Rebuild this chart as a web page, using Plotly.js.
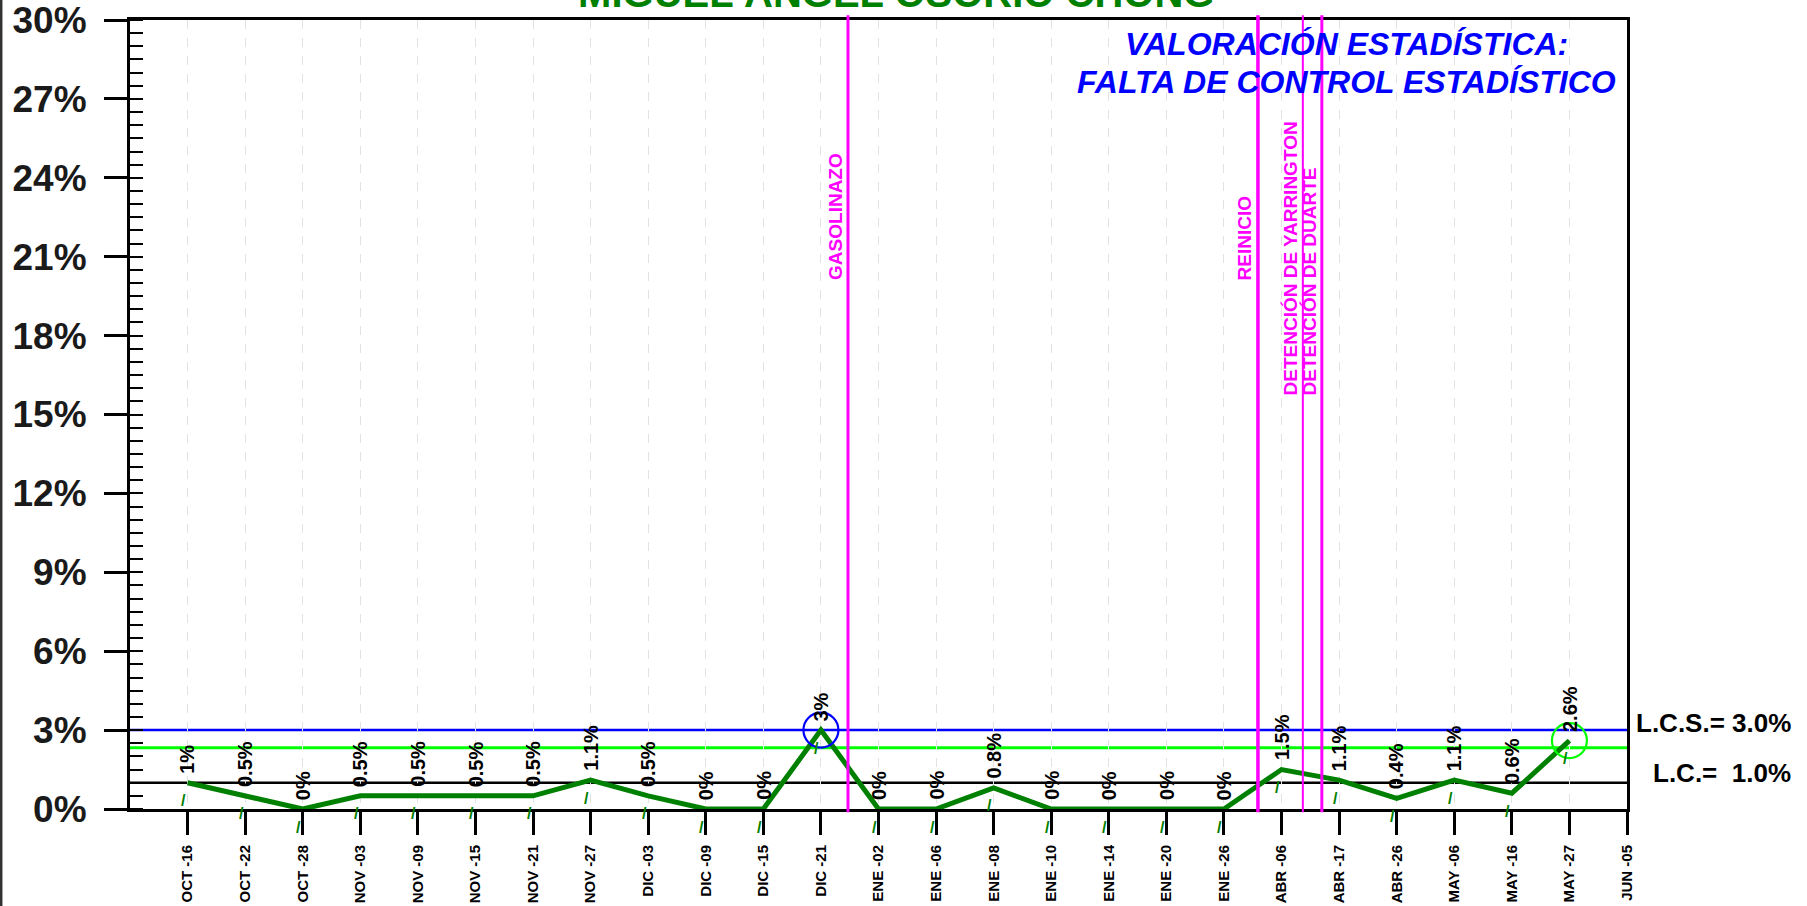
<!DOCTYPE html>
<html><head><meta charset="utf-8">
<script src="https://cdn.plot.ly/plotly-3.0.1.min.js"></script>
<style>html,body{margin:0;padding:0;background:#fff}#chart{width:1807px;height:906px}</style>
</head><body><div id="chart"></div>
<script>
const categories = ['OCT -16','OCT -22','OCT -28','NOV -03','NOV -09','NOV -15','NOV -21','NOV -27',
  'DIC -03','DIC -09','DIC -15','DIC -21','ENE -02','ENE -06','ENE -08','ENE -10','ENE -14','ENE -20',
  'ENE -26','ABR -06','ABR -17','ABR -26','MAY -06','MAY -16','MAY -27','JUN -05'];
const values = [1,0.5,0,0.5,0.5,0.5,0.5,1.1,0.5,0,0,3,0,0,0.8,0,0,0,0,1.5,1.1,0.4,1.1,0.6,2.6,null];
const yTickVals = [0,3,6,9,12,15,18,21,24,27,30];
const yTickText = ['0%','3%','6%','9%','12%','15%','18%','21%','24%','27%','30%'];
const lcsValue = 3.0;
const lcValue = 1.0;
const greenLimit = 2.33;
const circleCats = ['DIC -21','MAY -27'];
const circleVals = [3, 2.6];
const circleColors = ['#0000ff','#00ff00'];
const events = ['GASOLINAZO','REINICIO','DETENCIÓN DE YARRINGTON','DETENCIÓN DE DUARTE'];
const eventX = [11.47, 18.59, 19.37, 19.70];
const titleText = 'MIGUEL ÁNGEL OSORIO CHONG';
const noteLines = ['VALORACIÓN ESTADÍSTICA:', 'FALTA DE CONTROL ESTADÍSTICO'];

const FONT = 'Liberation Sans, Arial, sans-serif';
const fmt = v => String(v) + '%';

const traces = [
  {x: categories, y: values, type: 'scatter', mode: 'lines',
   line: {color: '#008000', width: 5}, cliponaxis: false, hoverinfo: 'skip', showlegend: false},
  {x: circleCats, y: circleVals, type: 'scatter', mode: 'markers',
   marker: {symbol: 'circle-open', size: 35, color: circleColors, line: {width: 2.2, color: circleColors}},
   cliponaxis: false, hoverinfo: 'skip', showlegend: false}
];

const annotations = [];
categories.forEach((c, i) => {
  const v = values[i];
  if (v === null) return;
  annotations.push({x: c, y: v, xref: 'x', yref: 'y', text: fmt(v), showarrow: false,
    textangle: -90, yanchor: 'bottom', xanchor: 'center', yshift: 7,
    font: {family: FONT, size: 20, color: '#000', weight: 'bold'}});
  annotations.push({x: c, y: v, xref: 'x', yref: 'y', text: '/', showarrow: false,
    yanchor: 'middle', xanchor: 'center', yshift: -18, xshift: -4,
    font: {family: FONT, size: 16, color: '#008000', weight: 'bold'}});
});
events.forEach((e, i) => {
  annotations.push({x: eventX[i], y: i >= 2 ? 0.522 : 0.668, xref: 'x', yref: 'paper', text: e,
    showarrow: false, textangle: -90, xanchor: 'right', yanchor: 'bottom',
    font: {family: FONT, size: 19, color: '#ff00ff', weight: 'bold'}});
});
annotations.push({x: 1.111, y: lcsValue, xref: 'paper', yref: 'y', text: 'L.C.S.= ' + lcsValue.toFixed(1) + '%',
  showarrow: false, xanchor: 'right', yanchor: 'middle', yshift: 7,
  font: {family: FONT, size: 26, color: '#000', weight: 'bold'}});
annotations.push({x: 1.111, y: lcValue, xref: 'paper', yref: 'y', text: 'L.C.=\u00a0 ' + lcValue.toFixed(1) + '%',
  showarrow: false, xanchor: 'right', yanchor: 'middle', yshift: 10,
  font: {family: FONT, size: 26, color: '#000', weight: 'bold'}});
noteLines.forEach((t, i) => {
  annotations.push({x: 0.8123, y: i === 0 ? 0.969 : 0.921, xref: 'paper', yref: 'paper', text: t,
    showarrow: false, xanchor: 'center', yanchor: 'middle', align: 'center',
    font: {family: FONT, size: 32, color: '#0000ff', weight: 'bold', style: 'italic'}});
});

const shapes = [];
[[lcsValue, '#0000ff', 2.5], [greenLimit, '#00ff00', 3], [lcValue, '#000000', 2.5]].forEach(h => {
  shapes.push({type: 'line', xref: 'paper', yref: 'y', x0: 0, x1: 1, y0: h[0], y1: h[0],
    line: {color: h[1], width: h[2]}, layer: 'below'});
});
const evWidths = [3, 3.5, 2, 3];
eventX.forEach((ex, i) => {
  shapes.push({type: 'line', xref: 'x', yref: 'paper', x0: ex, x1: ex, y0: -0.004, y1: 1.006,
    line: {color: '#ff00ff', width: evWidths[i]}});
});
shapes.push({type: 'line', xref: 'paper', yref: 'y', ysizemode: 'pixel', yanchor: 0, x0: 0, x1: 0, y0: -23, y1: 0,
  line: {color: '#000', width: 3}});
shapes.push({type: 'line', xref: 'paper', yref: 'paper', x0: -0.0862, x1: -0.0862, y0: -0.13, y1: 1.03,
  line: {color: '#333', width: 3}});

const layout = {
  width: 1807, height: 906,
  margin: {l: 130, r: 180, t: 20, b: 97},
  paper_bgcolor: '#fff', plot_bgcolor: '#fff',
  font: {family: FONT},
  showlegend: false,
  title: {text: titleText, xref: 'container', yref: 'container', x: 0.496, xanchor: 'center',
    y: 0.992, yanchor: 'bottom', font: {family: FONT, size: 40, color: '#008000', weight: 'bold'}},
  xaxis: {type: 'category', categoryorder: 'array', categoryarray: categories, range: [-1, 25],
    showline: true, linecolor: '#000', linewidth: 3, mirror: true,
    ticks: 'outside', ticklen: 23, tickwidth: 3, tickcolor: '#000', tickangle: -90,
    ticklabelstandoff: 4, ticklabeloverflow: 'allow',
    tickfont: {family: FONT, size: 15, color: '#000', weight: 'bold'},
    showgrid: true, gridcolor: '#e2e2e2', gridwidth: 1, griddash: 'dash', zeroline: false, fixedrange: true},
  yaxis: {range: [0, 30], tickmode: 'array', tickvals: yTickVals, ticktext: yTickText,
    showline: true, linecolor: '#000', linewidth: 3, mirror: true,
    ticks: 'outside', ticklen: 23, tickwidth: 3, tickcolor: '#000',
    ticklabelstandoff: 10, ticklabeloverflow: 'allow',
    tickfont: {family: FONT, size: 37, color: '#1a1a1a', weight: 'bold'},
    minor: {dtick: 0.5, tick0: 0, ticks: 'inside', ticklen: 13, tickwidth: 2, tickcolor: '#000', showgrid: false},
    showgrid: false, zeroline: false, fixedrange: true},
  annotations: annotations,
  shapes: shapes
};
Plotly.newPlot('chart', traces, layout, {displayModeBar: false, staticPlot: true});
</script></body></html>
